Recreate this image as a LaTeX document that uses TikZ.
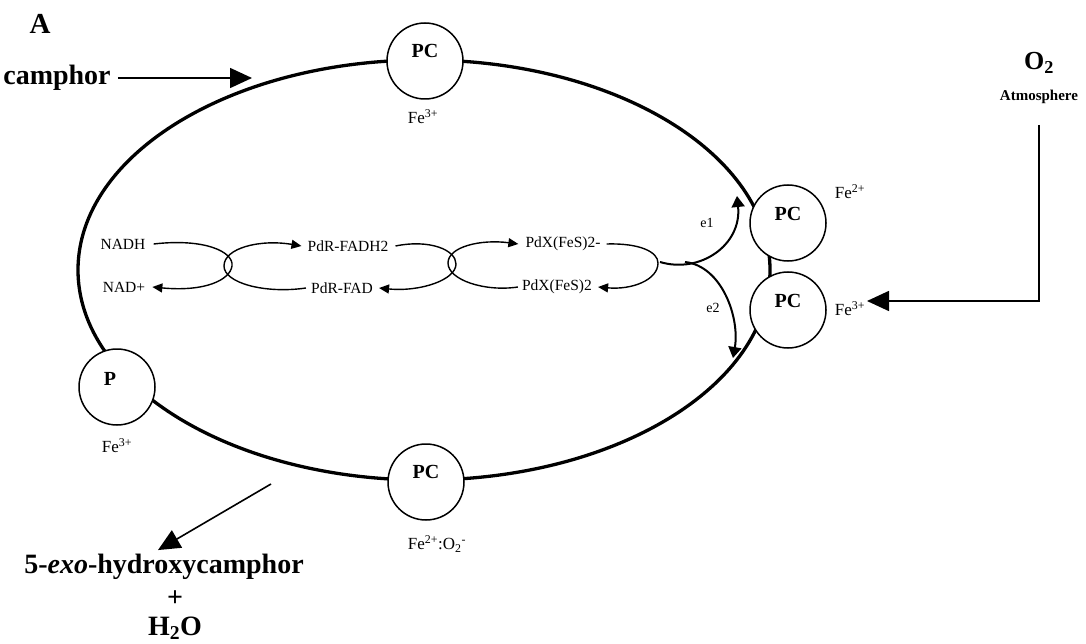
\documentclass[tikz,border=0pt]{standalone}
\usepackage{fontspec}
\setmainfont{Liberation Serif}
\usetikzlibrary{arrows.meta}

\tikzset{
  heme/.style={draw, circle, line width=1.5pt, fill=white, minimum size=76pt, inner sep=0pt},
  hemename/.style={font=\fontsize{20}{20}\selectfont\bfseries, inner sep=0pt},
  iron/.style={font=\fontsize{17}{17}\selectfont, inner sep=1pt},
  species/.style={font=\fontsize{15.5}{16}\selectfont, inner sep=1pt},
  big/.style={font=\fontsize{28}{30}\selectfont\bfseries, inner sep=1pt},
  redox/.style={line width=1.4pt, -{Triangle[length=10pt,width=9pt]}},
  etrans/.style={line width=2pt, -{Triangle[length=11pt,width=13pt]}},
  bigarrow/.style={line width=1.6pt, -{Triangle[length=22pt,width=20pt]}}
}

\begin{document}
\begin{tikzpicture}[x=1pt, y=-1pt]
\useasboundingbox (0,0) rectangle (1086,644);

% the cycle
\draw[line width=3.3pt] (424,270) ellipse [x radius=346pt, y radius=210pt];

\node[heme] (pcTop) at (425,61) {};
\node[heme] (pcUp) at (788,223) {};
\node[heme] (pcLow) at (788,310) {};
\node[heme] (pcBot) at (426,482) {};
\node[heme] (pRest) at (117,387) {};
\node[hemename] (pcTopTxt) at ([yshift=10pt]pcTop.center) {PC};
\node[hemename] (pcUpTxt) at ([yshift=9pt]pcUp.center) {PC};
\node[hemename] (pcLowTxt) at ([yshift=9pt]pcLow.center) {PC};
\node[hemename] (pcBotTxt) at ([yshift=10pt]pcBot.center) {PC};
\node[hemename] (pRestTxt) at ([xshift=-7pt,yshift=8pt]pRest.center) {P};

\node[iron] (feTop) at (423,117) {Fe\textsuperscript{3+}};
\node[iron] (feUp) at (850,192) {Fe\textsuperscript{2+}};
\node[iron] (feLow) at (850,309) {Fe\textsuperscript{3+}};
\node[iron] (feBot) at (437,544) {Fe\textsuperscript{2+}:O\textsubscript{2}\textsuperscript{-}};
\node[iron] (feRest) at (117,446) {Fe\textsuperscript{3+}};

% electron transfer chain
\node[species] (nadh) at (123,244) {NADH};
\node[species] (nadp) at (124,287) {NAD+};
\node[species] (fadh) at (348,246) {PdR-FADH2};
\node[species] (fad) at (342,288) {PdR-FAD};
\node[species] (pdxRed) at (563,244) {PdX(FeS)2-};
\node[species] (pdxOx) at (557,287) {PdX(FeS)2};

\draw[redox] ([xshift=7pt]nadh.east) .. controls (205,238) and (234,252) .. (232,266)
  .. controls (230,280) and (205,292) .. ([xshift=6pt]nadp.east);
\draw[redox] ([xshift=-4pt]fad.west) .. controls (265,294) and (224,283) .. (224,266)
  .. controls (224,248) and (260,239) .. ([xshift=-5pt]fadh.west);
\draw[redox] ([xshift=6pt]fadh.east) .. controls (430,239) and (456,250) .. (456,264)
  .. controls (456,280) and (420,292) .. ([xshift=5pt]fad.east);
\draw[redox] ([xshift=-3pt]pdxOx.west) .. controls (485,292) and (448,280) .. (448,263)
  .. controls (448,247) and (480,239) .. ([xshift=-6pt]pdxRed.west);
\draw[redox] ([xshift=5pt]pdxRed.east) .. controls (640,243) and (658,252) .. (658,263)
  .. controls (658,280) and (632,290) .. ([xshift=5pt]pdxOx.east);

\coordinate (fork) at (660,262);
\coordinate (e1tip) at (737,196);
\coordinate (e2tip) at (733,358);
\draw[etrans] (fork) .. controls (700,274) and (742,245) .. (e1tip);
\draw[etrans] ([xshift=25pt]fork) .. controls (722,266) and (740,318) .. (e2tip);
\node[species, font=\fontsize{14}{14}\selectfont] (eOne) at (707,223) {e1};
\node[species, font=\fontsize{14}{14}\selectfont] (eTwo) at (713,308) {e2};

% substrate in, product out
\node[big, font=\fontsize{29}{30}\selectfont\bfseries] (panel) at (40,24) {A};
\node[big] (camphor) at (57,78) {camphor};
\coordinate (camIn) at (252,78);
\draw[bigarrow] ([xshift=6pt]camphor.east) -- (camIn);

\node[big, font=\fontsize{26}{30}\selectfont\bfseries] (otwo) at (1039,63) {O\textsubscript{2}};
\node[big, font=\fontsize{15}{16}\selectfont\bfseries] (atmos) at (1039,97) {Atmosphere};
\coordinate (o2in) at (867,301);
\draw[bigarrow] ([yshift=-20pt]atmos.south) |- (o2in);

\coordinate (release) at (271,484);
\node[big] (product) at (164,567) {5-\textit{exo}-hydroxycamphor};
\node[big] (plus) at (175,599) {+};
\node[big] (water) at (175,628) {H\textsubscript{2}O};
\draw[bigarrow] (release) -- ([xshift=-6pt,yshift=3pt]product.north);
\end{tikzpicture}
\end{document}
